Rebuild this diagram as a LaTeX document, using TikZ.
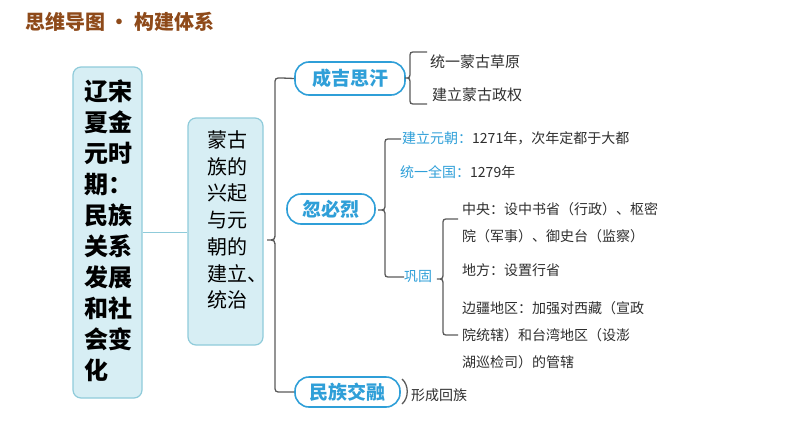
\documentclass[tikz,border=0pt]{standalone}
\usepackage{fontspec}
\setmainfont{Noto Sans CJK SC}
\usepackage{xcolor}
\definecolor{boxfill}{HTML}{D7EEF4}
\definecolor{boxline}{HTML}{8FCBDA}
\definecolor{pillblue}{HTML}{2F9FD8}
\definecolor{titlebrown}{HTML}{8E4A1A}
\definecolor{brkgray}{HTML}{5A5A5A}
\definecolor{leafgray}{HTML}{2E2E2E}

\begin{document}
\begin{tikzpicture}[x=1pt,y=-1pt,
  bigbox/.style={draw=boxline,fill=boxfill,line width=1.2pt,rounded corners=8pt,inner sep=0pt},
  pill/.style={draw=pillblue,fill=white,line width=1.6pt,rounded corners=14pt,inner sep=0pt,
    text=pillblue,font=\bfseries\fontsize{19}{19}\selectfont},
  brk/.style={draw=brkgray,line width=1.3pt},
  leaf/.style={anchor=west,inner sep=0pt,align=left,text=leafgray,font=\fontsize{14}{27}\selectfont},
  hint/.style={text=pillblue}]
  \useasboundingbox (0,0) rectangle (794,447);
  % title
  \node[anchor=west,inner sep=0pt,text=titlebrown,font=\bfseries\fontsize{20}{20}\selectfont] (title) at (25,22) {思维导图 • 构建体系};
  % left boxes
  \node[bigbox,minimum width=69pt,minimum height=331pt] (b1) at (107.5,232.5) {};
  \node[inner sep=0pt,align=left,font=\bfseries\fontsize{24}{31}\selectfont] (b1t) at (108.5,231)
    {辽宋\\夏金\\元时\\期：\\民族\\关系\\发展\\和社\\会变\\化};
  \node[bigbox,minimum width=75pt,minimum height=227pt] (b2) at (225.5,231.5) {};
  \node[inner sep=0pt,align=left,font=\fontsize{20}{26.7}\selectfont] (b2t) at (237,220)
    {蒙古\\族的\\兴起\\与元\\朝的\\建立、\\统治};
  \draw[boxline,line width=1.2pt] (b1.east) -- (b1.east -| b2.west);
  % second level
  \node[pill,minimum width=110pt,minimum height=33pt] (cj) at (350,78.5) {成吉思汗};
  \node[pill,minimum width=88pt,minimum height=30pt] (hb) at (331,209) {忽必烈};
  \node[pill,minimum width=105pt,minimum height=30pt] (mz) at (347.5,392) {民族交融};
  \coordinate (mtip) at (267,240);
  \draw[brk] (cj.west) -- (282,78) .. controls (275,78) .. (275,85) -- (275,232)
    .. controls (275,240) .. (mtip) .. controls (275,240) .. (275,248) -- (275,385)
    .. controls (275,392) .. (282,392) -- (mz.west);
  % chengjisihan
  \node[leaf,font=\fontsize{15}{15}\selectfont] (cj1) at (430,62) {统一蒙古草原};
  \node[leaf,font=\fontsize{15}{15}\selectfont] (cj2) at (432,95) {建立蒙古政权};
  \coordinate (cjtip) at (405,78);
  \draw[brk] (427,52) -- (416,52) .. controls (410,52) .. (410,58) -- (410,71)
    .. controls (410,78) .. (cjtip) .. controls (410,78) .. (410,85) -- (410,98)
    .. controls (410,104) .. (416,104) -- (427,104);
  % hubilie
  \node[leaf] (hb1) at (402,138) {\textcolor{pillblue}{建立元朝：}1271年，次年定都于大都};
  \node[leaf] (hb2) at (400,172) {\textcolor{pillblue}{统一全国：}1279年};
  \node[leaf,hint] (gg) at (404,277) {巩固};
  \coordinate (hbtip) at (378,210);
  \draw[brk] (401,139) -- (391,139) .. controls (385,139) .. (385,145) -- (385,203)
    .. controls (385,210) .. (hbtip) .. controls (385,210) .. (385,217) -- (385,271)
    .. controls (385,277) .. (391,277) -- (gg.west);
  % gonggu
  \node[leaf] (gg1) at (462,222.5) {中央：设中书省（行政）、枢密\\院（军事）、御史台（监察）};
  \node[leaf] (gg2) at (462,270) {地方：设置行省};
  \node[leaf] (gg3) at (462,335) {边疆地区：加强对西藏（宣政\\院统辖）和台湾地区（设澎\\湖巡检司）的管辖};
  \coordinate (ggtip) at (437,279);
  \draw[brk] (458,219) -- (449,219) .. controls (443,219) .. (443,225) -- (443,272)
    .. controls (443,279) .. (ggtip) .. controls (443,279) .. (443,286) -- (443,329)
    .. controls (443,335) .. (449,335) -- (458,335);
  % minzu jiaorong
  \node[leaf] (mz1) at (411,395) {形成回族};
  \draw[brk] (402,379) .. controls (409,385) and (409,398) .. (402,404);
\end{tikzpicture}
\end{document}
